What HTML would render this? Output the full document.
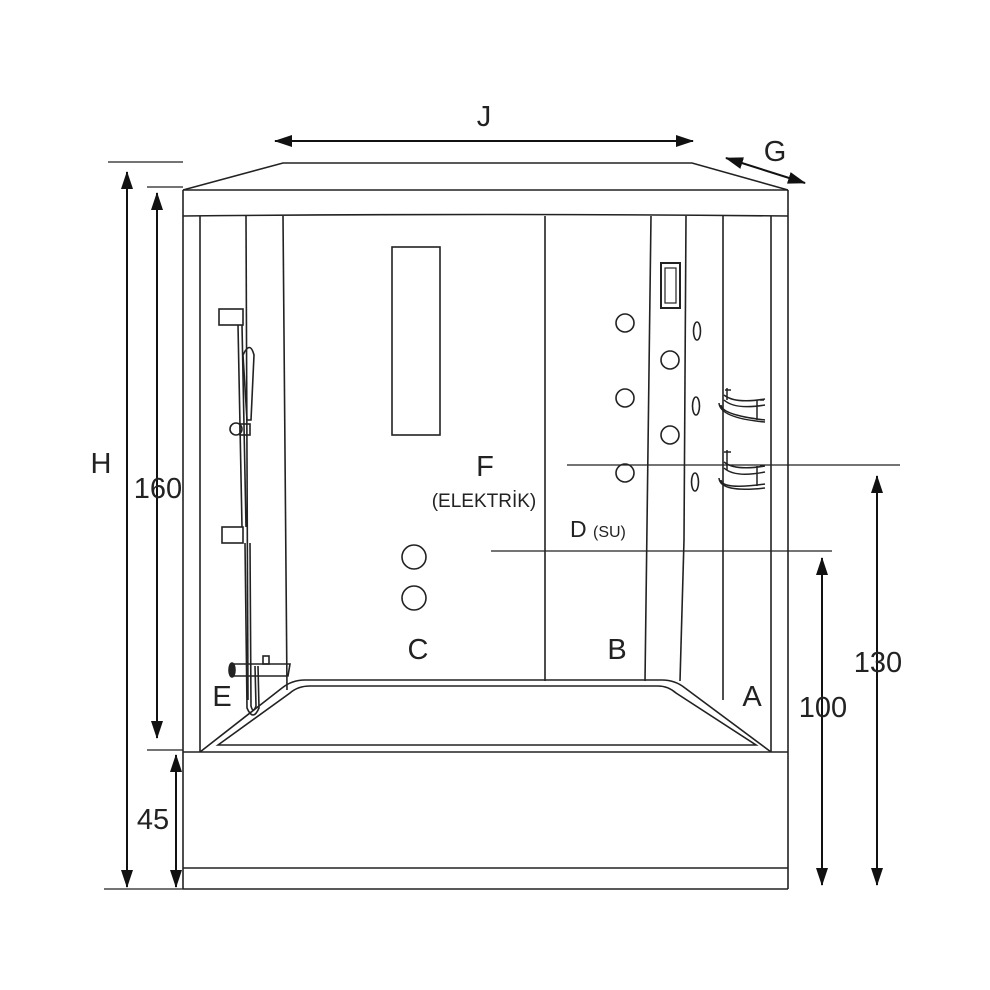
<!DOCTYPE html>
<html><head><style>
html,body{margin:0;padding:0;background:#fff;}
svg{display:block;}
text{font-family:"Liberation Sans",sans-serif;fill:#222;}
</style></head><body>
<svg width="990" height="990" viewBox="0 0 990 990" xmlns="http://www.w3.org/2000/svg">
<defs>
<marker id="ah" markerWidth="10" markerHeight="10" refX="9" refY="5" orient="auto-start-reverse" markerUnits="userSpaceOnUse" viewBox="0 0 10 10">
<path d="M0,1 L10,5 L0,9 z" fill="#111"/>
</marker>
<marker id="ab" markerWidth="18" markerHeight="12" refX="17" refY="6" orient="auto-start-reverse" markerUnits="userSpaceOnUse" viewBox="0 0 18 12">
<path d="M0,0 L18,6 L0,12 z" fill="#111"/>
</marker>
</defs>
<g stroke="#222" stroke-width="1.6" fill="none">
<!-- roof -->
<path d="M183,190 L283,163 L692,163 L788,190"/>
<line x1="183" y1="190" x2="788" y2="190"/>
<path d="M183,216 Q485,213 788,216"/>
<!-- frame -->
<line x1="183" y1="190" x2="183" y2="889"/>
<line x1="788" y1="190" x2="788" y2="889"/>
<line x1="200" y1="216" x2="200" y2="752"/>
<line x1="771" y1="216" x2="771" y2="752"/>
<line x1="246" y1="216" x2="248" y2="700"/>
<line x1="283" y1="216" x2="287" y2="690"/>
<line x1="545" y1="216" x2="545" y2="681"/>
<line x1="651" y1="216" x2="645" y2="681"/>
<line x1="686" y1="216" x2="684" y2="540"/>
<line x1="684" y1="540" x2="680" y2="681"/>
<line x1="723" y1="216" x2="723" y2="700"/>
<!-- base -->
<line x1="183" y1="752" x2="788" y2="752"/>
<line x1="183" y1="868" x2="788" y2="868"/>
<line x1="183" y1="889" x2="788" y2="889"/>
<!-- tub -->
<path d="M200,752 L282,688 Q292,680 305,680 L662,680 Q675,680 685,688 L771,752"/>
<path d="M218,745 L290,693 Q298,686 310,686 L658,686 Q668,686 676,693 L756,745 Z"/>
<!-- panel -->
<rect x="392" y="247" width="48" height="188"/>
<circle cx="414" cy="557" r="12"/>
<circle cx="414" cy="598" r="12"/>
<!-- jets -->
<rect x="661" y="263" width="19" height="45" stroke-width="2"/>
<rect x="665" y="268" width="11" height="35" stroke-width="1.2"/>
<circle cx="625" cy="323" r="9"/>
<circle cx="625" cy="398" r="9"/>
<circle cx="625" cy="473" r="9"/>
<circle cx="670" cy="360" r="9"/>
<circle cx="670" cy="435" r="9"/>
<ellipse cx="697" cy="331" rx="3.5" ry="9"/>
<ellipse cx="696" cy="406" rx="3.5" ry="9"/>
<ellipse cx="695" cy="482" rx="3.5" ry="9"/>
<!-- shelves -->
<g stroke-width="1.5">
<path d="M721,405 Q722,415 765,420 M719,403 Q720,418 765,422"/>
<path d="M724,400 Q735,410 765,405 M724,395 Q735,404 765,399"/>
<path d="M727,388 L727,400 M725,390 L731,390 M757,400 L757,420 M760,400 L764,400"/>
<path d="M721,480 Q722,490 765,484 M719,478 Q720,493 765,488"/>
<path d="M724,468 Q735,478 765,472 M724,462 Q735,471 765,466"/>
<path d="M727,450 L727,470 M724,452 L731,452 M757,466 L757,486 M760,466 L764,466"/>
</g>
<!-- shower -->
<rect x="219" y="309" width="24" height="16"/>
<rect x="222" y="527" width="21" height="16"/>
<line x1="238" y1="325" x2="242" y2="527"/>
<line x1="242" y1="325" x2="246" y2="527"/>
<path d="M243,355 Q250,340 254,355 L251,420 L247,420 Z"/>
<circle cx="236" cy="429" r="6"/>
<rect x="240" y="424" width="10" height="11"/>
<path d="M245,543 L247,708 Q253,722 259,708 L258,666"/>
<path d="M250,543 L251,706 Q253,714 256,706 L255,666"/>
<path d="M231,664 L290,664 L288,676 L231,676 Z"/>
<ellipse cx="232" cy="670" rx="3" ry="7" fill="#222"/>
<rect x="263" y="656" width="6" height="8"/>
<!-- guide lines -->
<line x1="567" y1="465" x2="900" y2="465" stroke-width="1.2"/>
<line x1="491" y1="551" x2="832" y2="551" stroke-width="1.2"/>
<line x1="108" y1="162" x2="183" y2="162" stroke-width="1.2"/>
<line x1="147" y1="187" x2="183" y2="187" stroke-width="1.2"/>
<line x1="104" y1="889" x2="183" y2="889" stroke-width="1.2"/>
<line x1="147" y1="750" x2="183" y2="750" stroke-width="1.2"/>
</g>
<!-- dimension arrows -->
<g stroke="#111" stroke-width="2" fill="none">
<line x1="127" y1="172" x2="127" y2="887" marker-start="url(#ab)" marker-end="url(#ab)"/>
<line x1="157" y1="193" x2="157" y2="738" marker-start="url(#ab)" marker-end="url(#ab)"/>
<line x1="176" y1="755" x2="176" y2="887" marker-start="url(#ab)" marker-end="url(#ab)"/>
<line x1="822" y1="558" x2="822" y2="885" marker-start="url(#ab)" marker-end="url(#ab)"/>
<line x1="877" y1="476" x2="877" y2="885" marker-start="url(#ab)" marker-end="url(#ab)"/>
<line x1="275" y1="141" x2="693" y2="141" marker-start="url(#ab)" marker-end="url(#ab)"/>
<line x1="726" y1="158" x2="805" y2="183" marker-start="url(#ab)" marker-end="url(#ab)"/>
</g>
<!-- labels -->
<g font-size="29" text-anchor="middle">
<text x="484" y="126">J</text>
<text x="775" y="161">G</text>
<text x="101" y="473">H</text>
<text x="158" y="498">160</text>
<text x="153" y="829">45</text>
<text x="823" y="717">100</text>
<text x="878" y="672">130</text>
<text x="485" y="476">F</text>
<text x="418" y="659">C</text>
<text x="617" y="659">B</text>
<text x="752" y="706">A</text>
<text x="222" y="706">E</text>
<text x="484" y="507" font-size="19">(ELEKTRİK)</text>
<text x="570" y="537" font-size="23" text-anchor="start">D <tspan font-size="16">(SU)</tspan></text>
</g>
</svg>
</body></html>
